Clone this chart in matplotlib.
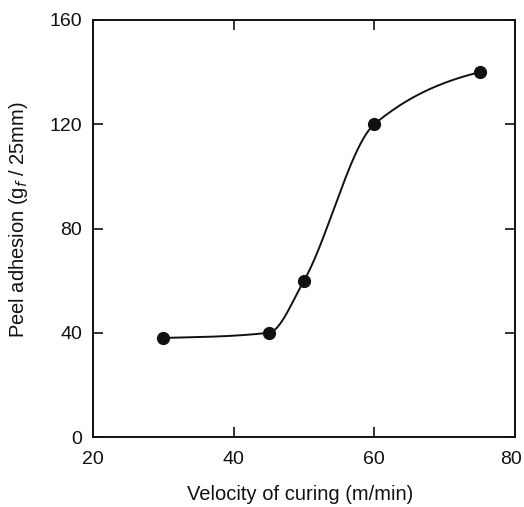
import numpy as np
import matplotlib
matplotlib.use("Agg")
import matplotlib.pyplot as plt
from matplotlib.transforms import ScaledTranslation

velocity = [30, 45, 50, 60, 75]
adhesion = [38, 40, 60, 120, 140]
xticks = [20, 40, 60, 80]
yticks = [0, 40, 80, 120, 160]

def pchip(x, y, xs):
    x = np.asarray(x, float); y = np.asarray(y, float)
    h = np.diff(x); d = np.diff(y) / h
    n = len(x); m = np.zeros(n)
    for k in range(1, n - 1):
        if d[k-1] * d[k] > 0:
            w1 = 2*h[k] + h[k-1]; w2 = h[k] + 2*h[k-1]
            m[k] = (w1 + w2) / (w1/d[k-1] + w2/d[k])
    m[0] = d[0] * 0.5
    m[-1] = d[-1] * 0.5
    out = np.empty_like(xs)
    for i, xv in enumerate(xs):
        k = min(max(np.searchsorted(x, xv) - 1, 0), n - 2)
        t = (xv - x[k]) / h[k]
        h00 = 2*t**3 - 3*t**2 + 1; h10 = t**3 - 2*t**2 + t
        h01 = -2*t**3 + 3*t**2; h11 = t**3 - t**2
        out[i] = h00*y[k] + h10*h[k]*m[k] + h01*y[k+1] + h11*h[k]*m[k+1]
    return out

plt.rcParams['font.family'] = ['Liberation Sans', 'DejaVu Sans']
fig = plt.figure(figsize=(5.24, 5.07), dpi=100)
ax = fig.add_axes([93/524, 1 - 437/507, (515-93)/524, (437-20)/507])

xs = np.linspace(velocity[0], velocity[-1], 400)
ax.plot(xs, pchip(velocity, adhesion, xs), color='#111111', lw=1.4)
ax.plot(velocity, adhesion, 'o', color='#111111', ms=8.5)

ax.set_xlim(20, 80); ax.set_ylim(0, 160)
ax.set_xticks(xticks); ax.set_yticks(yticks)
ax.tick_params(direction='in', length=7, width=1.2, top=True, right=True,
               labelsize=14, colors='#111111')
ax.tick_params(axis='x', pad=10)
ax.tick_params(axis='y', pad=8)
for s in ax.spines.values():
    s.set_linewidth(1.4); s.set_color('#111111')
ax.set_xlabel('Velocity of curing (m/min)', fontsize=14.5, color='#111111')
ax.set_ylabel(r'Peel adhesion (g$_f$ / 25mm)', fontsize=14.5, color='#111111')
ax.xaxis.set_label_coords((300-93)/422, -(495-437)/417)
ax.yaxis.set_label_coords(-(93-18)/422, (437-220)/417)
ax.xaxis.label.set_va('center'); ax.yaxis.label.set_va('center')

fig.canvas.draw()
last = ax.get_xticklabels()[-1]
last.set_transform(last.get_transform() + ScaledTranslation(-3/72, 0, fig.dpi_scale_trans))
fig.savefig('out.png', dpi=100)
